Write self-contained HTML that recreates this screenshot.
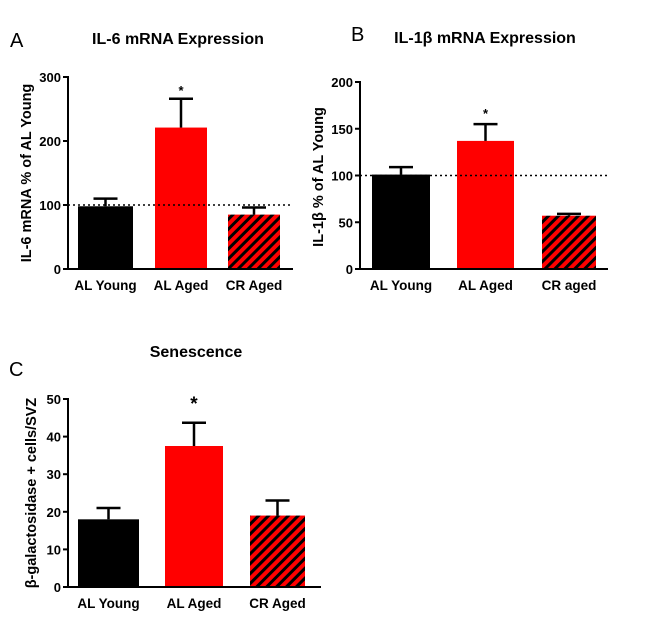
<!DOCTYPE html>
<html><head><meta charset="utf-8"><style>
body{margin:0;background:#fff;}
svg text{font-family:"Liberation Sans",Arial,sans-serif;font-weight:bold;}
</style></head><body>
<svg id="s" width="660" height="628" viewBox="0 0 660 628" xmlns="http://www.w3.org/2000/svg">
<defs>
<pattern id="hatch" patternUnits="userSpaceOnUse" width="7" height="7" patternTransform="rotate(45)">
<rect width="7" height="7" fill="#ff0000"/><rect x="0" width="3" height="7" fill="#000"/>
</pattern>
</defs>
</svg>
<script>
const categoriesA=["AL Young","AL Aged","CR Aged"];
const valuesA=[98,221,85];
const errorsA=[110,266,96];
const ticksA=[0,100,200,300];
const categoriesB=["AL Young","AL Aged","CR aged"];
const valuesB=[101,137,57];
const errorsB=[109,155,59];
const ticksB=[0,50,100,150,200];
const categoriesC=["AL Young","AL Aged","CR Aged"];
const valuesC=[18,37.5,19];
const errorsC=[21,43.7,23];
const ticksC=[0,10,20,30,40,50];

const svg=document.getElementById('s');
const NS="http://www.w3.org/2000/svg";
function mk(tag,attrs,name,text){
  const e=document.createElementNS(NS,tag);
  for(const k in attrs)e.setAttribute(k,attrs[k]);
  
  
  if(text!==undefined)e.textContent=text;
  svg.appendChild(e);return e;
}
const fills=["#000","#ff0000","url(#hatch)"];
function panel(p){
  const y=v=>p.y0-(v-p.min)/(p.max-p.min)*(p.y0-p.y1);
  mk('text',{x:p.letterX,y:p.letterY,'font-size':20},'panel-letter',p.letter).style.fontWeight='normal';
  mk('text',{x:p.titleX,y:p.titleY,'font-size':16,'text-anchor':'middle'},'chart-title',p.title);
  mk('text',{x:0,y:0,'font-size':14.5,'text-anchor':'middle',transform:`translate(${p.ylx},${p.yly}) rotate(-90)`},'y-axis-title',p.ylabel);
  p.vals.forEach((v,i)=>{
    const [a,b]=p.bars[i];
    mk('rect',{x:a,y:y(v),width:b-a,height:p.y0-y(v),fill:fills[i]},'bar-'+p.cats[i].toLowerCase().replace(/ /g,'-'));
    const cx=(a+b)/2;
    mk('line',{x1:cx,x2:cx,y1:y(v),y2:y(p.errs[i]),stroke:'#000','stroke-width':2.5},'error-bar');
    mk('line',{x1:cx-12,x2:cx+12,y1:y(p.errs[i]),y2:y(p.errs[i]),stroke:'#000','stroke-width':2.5},'error-cap');
    mk('text',{x:cx,y:p.y0+21,'font-size':13.5,'text-anchor':'middle'},'x-tick-label',p.cats[i]);
  });
  if(p.dotted) mk('line',{x1:p.ax,x2:p.xEnd,y1:y(100),y2:y(100),stroke:'#000','stroke-width':1.5,'stroke-dasharray':'2,3'},'reference-line-100');
  mk('line',{x1:p.ax,x2:p.ax,y1:y(p.max)-1,y2:p.y0+1,stroke:'#000','stroke-width':2},'y-axis');
  mk('line',{x1:p.ax-1,x2:p.xEnd,y1:p.y0,y2:p.y0,stroke:'#000','stroke-width':2},'x-axis');
  p.ticks.forEach(t=>{
    mk('line',{x1:p.ax-5,x2:p.ax,y1:y(t),y2:y(t),stroke:'#000','stroke-width':2},'y-tick');
    mk('text',{x:p.ax-7,y:y(t)+5,'font-size':13,'text-anchor':'end'},'y-tick-label',t);
  });
  const si=p.vals.indexOf(Math.max(...p.vals));
  mk('text',{x:(p.bars[si][0]+p.bars[si][1])/2,y:p.starY,'font-size':p.starSize,'text-anchor':'middle'},'significance-star','*');
}
panel({letter:'A',letterX:10,letterY:47,title:'IL-6 mRNA Expression',titleX:178,titleY:44,ylabel:'IL-6 mRNA  % of AL Young',ylx:31,yly:173,
 ax:68,xEnd:293,y0:269,y1:77,min:0,max:300,ticks:ticksA,cats:categoriesA,vals:valuesA,errs:errorsA,
 bars:[[78,133],[155,207],[228,280]],dotted:true,starY:95,starSize:13});
panel({letter:'B',letterX:351,letterY:41,title:'IL-1\u03b2 mRNA Expression',titleX:485,titleY:43,ylabel:'IL-1\u03b2 % of AL Young',ylx:323,yly:177,
 ax:360,xEnd:608,y0:269,y1:82,min:0,max:200,ticks:ticksB,cats:categoriesB,vals:valuesB,errs:errorsB,
 bars:[[372,430],[457,514],[542,596]],dotted:true,starY:118,starSize:13});
panel({letter:'C',letterX:9,letterY:376,title:'Senescence',titleX:196,titleY:357,ylabel:'\u03b2-galactosidase + cells/SVZ',ylx:36,yly:493,
 ax:68,xEnd:321,y0:587,y1:399,min:0,max:50,ticks:ticksC,cats:categoriesC,vals:valuesC,errs:errorsC,
 bars:[[78,139],[165,223],[250,305]],dotted:false,starY:410,starSize:19});
</script>
</body></html>
